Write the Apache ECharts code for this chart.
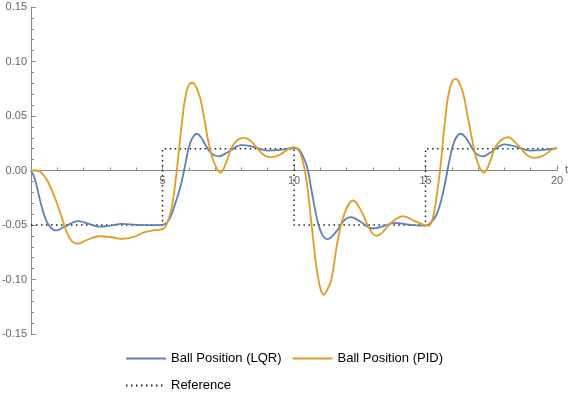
<!DOCTYPE html>
<html lang="en">
  <head>
    <meta charset="UTF-8" />
    <title>Ball Position</title>
    <style>
      html,
      body {
        margin: 0;
        padding: 0;
        background: #fff;
      }
      #main {
        width: 570px;
        height: 399px;
      }
    </style>
  </head>
  <body>
    <div id="main"></div>
    <script src="https://cdn.jsdelivr.net/npm/echarts@6/dist/echarts.min.js"></script>
    <script>
      // values: [t, position]
      const lqr = [
        [0, 0], [0.15, -0.008], [0.34, -0.027], [0.53, -0.043], [0.7, -0.051],
        [0.95, -0.055], [1.25, -0.052], [1.8, -0.0465], [2.2, -0.049], [2.62, -0.0515],
        [3.0, -0.0505], [3.45, -0.049], [4.0, -0.0498], [4.6, -0.0502], [5.0, -0.05],
        [5.2, -0.047], [5.35, -0.04], [5.5, -0.029], [5.67, -0.016], [5.82, 0.0],
        [5.98, 0.019], [6.12, 0.029], [6.3, 0.0337], [6.45, 0.031], [6.62, 0.024],
        [6.85, 0.016], [7.12, 0.013], [7.5, 0.017], [8.0, 0.0232], [8.5, 0.0215],
        [9.0, 0.0183], [9.5, 0.019], [10.0, 0.0205], [10.15, 0.02], [10.4, 0.01],
        [10.53, 0.0], [10.66, -0.0174], [10.91, -0.048], [11.1, -0.06], [11.29, -0.063],
        [11.5, -0.059], [11.67, -0.054], [11.9, -0.046], [12.16, -0.0428], [12.5, -0.0465],
        [13.0, -0.0532], [13.4, -0.051], [13.83, -0.048], [14.3, -0.0495], [14.84, -0.0505],
        [15.0, -0.0505], [15.2, -0.048], [15.43, -0.04], [15.68, -0.019], [15.93, 0.0116],
        [16.12, 0.028], [16.34, 0.0337], [16.5, 0.031], [16.69, 0.024], [16.9, 0.016],
        [17.17, 0.013], [17.5, 0.017], [18.02, 0.0239], [18.5, 0.0215], [18.97, 0.0183],
        [19.5, 0.019], [20, 0.0205]
      ];
      const pid = [
        [0, 0], [0.2, 0.0], [0.34, -0.001], [0.5, -0.005], [0.66, -0.011],
        [0.91, -0.025], [1.17, -0.043], [1.42, -0.06], [1.65, -0.0665], [1.8, -0.067],
        [2.1, -0.064], [2.62, -0.0603], [3.0, -0.061], [3.45, -0.0627], [3.9, -0.061],
        [4.27, -0.057], [4.7, -0.0548], [5.03, -0.0535], [5.15, -0.05], [5.35, -0.034],
        [5.54, -0.0006], [5.73, 0.042], [5.92, 0.073], [6.13, 0.0805], [6.25, 0.078],
        [6.43, 0.0667], [6.6, 0.046], [6.74, 0.027], [6.95, 0.008], [7.21, -0.0021],
        [7.4, 0.006], [7.63, 0.0208], [7.85, 0.028], [8.11, 0.03], [8.4, 0.026],
        [8.64, 0.0193], [8.9, 0.0135], [9.15, 0.0122], [9.5, 0.015], [9.8, 0.02],
        [9.97, 0.0214], [10.09, 0.0208], [10.28, 0.013], [10.47, -0.0083], [10.66, -0.048],
        [10.85, -0.088], [11.0, -0.108], [11.13, -0.1138], [11.25, -0.11], [11.42, -0.1],
        [11.67, -0.0633], [11.93, -0.0388], [12.24, -0.0275], [12.56, -0.0373], [12.88, -0.054],
        [13.13, -0.06], [13.35, -0.057], [13.57, -0.051], [13.85, -0.045], [14.14, -0.0419],
        [14.59, -0.0465], [14.85, -0.049], [15.03, -0.0505], [15.12, -0.0505], [15.25, -0.046],
        [15.36, -0.034], [15.55, -0.0006], [15.74, 0.045], [15.93, 0.076], [16.15, 0.084],
        [16.27, 0.081], [16.44, 0.07], [16.6, 0.05], [16.76, 0.03], [16.97, 0.008],
        [17.22, -0.0021], [17.42, 0.006], [17.64, 0.0208], [17.88, 0.028], [18.15, 0.0306],
        [18.4, 0.026], [18.66, 0.0193], [18.9, 0.0135], [19.16, 0.0116], [19.5, 0.014],
        [19.8, 0.019], [20, 0.0208]
      ];
      const reference = [
        [0, -0.05], [5, -0.05], [5, 0.02], [10, 0.02],
        [10, -0.05], [15, -0.05], [15, 0.02], [20, 0.02]
      ];
      const names = ["Ball Position (LQR)", "Ball Position (PID)", "Reference"];

      const chart = echarts.init(document.getElementById("main"));
      const axisGray = "#8a8a8a";
      const labelGray = "#666";
      const gridTop = 7;
      const gridBottom = 65;
      const plotH = 399 - gridTop - gridBottom;

      const option = {
        animation: false,
        textStyle: { fontFamily: "Liberation Sans, Arial, sans-serif" },
        grid: {
          left: 31,
          right: 13,
          top: gridTop,
          bottom: gridBottom,
          outerBoundsMode: "none"
        },
        legend: [
          {
            data: [names[0], names[1]],
            left: 120,
            top: 347,
            itemWidth: 40,
            itemHeight: 10,
            itemGap: 10,
            itemStyle: { opacity: 0 },
            textStyle: { fontSize: 13, color: "#000" }
          },
          {
            data: [names[2]],
            left: 120,
            top: 374,
            itemWidth: 40,
            itemHeight: 10,
            itemStyle: { opacity: 0 },
            textStyle: { fontSize: 13, color: "#000" }
          }
        ],
        xAxis: {
          type: "value",
          min: 0,
          max: 20,
          interval: 5,
          // the horizontal axis sits on y = 0, halfway up the plot
          offset: -plotH / 2,
          axisLine: { onZero: false, lineStyle: { color: axisGray } },
          axisTick: { inside: true, length: 5, lineStyle: { color: axisGray } },
          minorTick: { show: true, splitNumber: 5, length: 3, lineStyle: { color: axisGray } },
          splitLine: { show: false },
          axisLabel: {
            color: labelGray,
            fontSize: 11,
            margin: 5,
            formatter: (v) => (v === 0 ? "" : String(v))
          }
        },
        yAxis: {
          type: "value",
          min: -0.15,
          max: 0.15,
          interval: 0.05,
          axisLine: { show: true, onZero: false, lineStyle: { color: axisGray } },
          axisTick: { show: true, inside: true, length: 5, lineStyle: { color: axisGray } },
          minorTick: { show: true, splitNumber: 5, length: 3, lineStyle: { color: axisGray } },
          splitLine: { show: false },
          axisLabel: {
            color: labelGray,
            fontSize: 11,
            margin: 4,
            formatter: (v) => v.toFixed(2)
          }
        },
        series: [
          {
            name: names[0],
            type: "line",
            data: lqr,
            smooth: 0.4,
            symbol: "none",
            z: 3,
            lineStyle: { color: "#5E81B5", width: 1.8 },
            itemStyle: { color: "#5E81B5" }
          },
          {
            name: names[1],
            type: "line",
            data: pid,
            smooth: 0.4,
            symbol: "none",
            z: 4,
            lineStyle: { color: "#E19C24", width: 1.8 },
            itemStyle: { color: "#E19C24" }
          },
          {
            name: names[2],
            type: "line",
            data: reference,
            symbol: "none",
            z: 2,
            lineStyle: { color: "#222", width: 1.5, type: [1.5, 3.5] },
            itemStyle: { color: "#222" }
          }
        ]
      };
      chart.setOption(option);

      // axis name "t" just past the right end of the time axis
      const end = chart.convertToPixel({ gridIndex: 0 }, [20, 0]);
      chart.setOption({
        graphic: [
          {
            type: "text",
            x: end[0] + 8,
            y: end[1] - 1,
            style: {
              text: "t",
              fill: labelGray,
              font: "11px Liberation Sans, Arial, sans-serif",
              verticalAlign: "middle"
            }
          }
        ]
      });
    </script>
  </body>
</html>
